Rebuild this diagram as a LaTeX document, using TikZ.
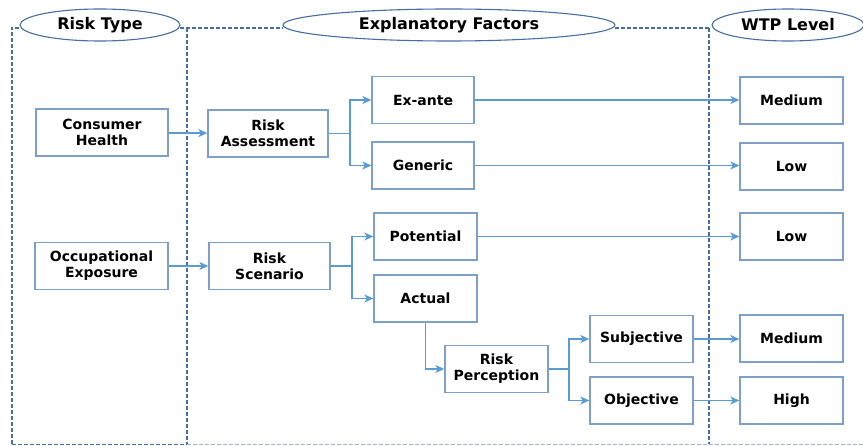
\documentclass[tikz,border=0pt]{standalone}
\usepackage{fontspec}
\setmainfont{DejaVu Sans}
\usetikzlibrary{arrows.meta,shapes.geometric}
\definecolor{boxc}{RGB}{125,160,200}
\definecolor{arrc}{RGB}{91,155,213}
\definecolor{dashc}{RGB}{70,110,160}
\definecolor{lightdash}{RGB}{160,180,205}
\begin{document}
\begin{tikzpicture}[x=1pt,y=-1pt,
  box/.style={draw=boxc,line width=1.3pt,fill=white,rectangle,align=center,
    minimum height=47pt,inner sep=2pt,font=\fontsize{14}{16}\selectfont\bfseries},
  ttl/.style={draw=dashc,line width=1.1pt,fill=white,ellipse,minimum height=32pt,
    inner sep=0pt,font=\fontsize{16}{18}\selectfont\bfseries},
  arr/.style={draw=arrc,line width=1.8pt,-{Stealth[length=9pt,width=8pt,inset=2.5pt]}},
  ln/.style={draw=arrc,line width=1.8pt},
  dsh/.style={draw=dashc,line width=1.5pt,dash pattern=on 4pt off 2pt}]
\useasboundingbox (0,0) rectangle (863,446);
% dashed frames
\draw[dsh] (12,444.5) -- (12,28) -- (20,28);
\draw[dsh] (180,28) -- (283,28);
\draw[dsh] (615,28) -- (709,28);
\draw[dsh] (187,28) -- (187,444.5);
\draw[dsh] (709,28) -- (709,444.5);
\draw[dsh] (12,444.5) -- (187,444.5);
\draw[draw=lightdash,line width=1.3pt,dash pattern=on 4pt off 2pt] (187,444.5) -- (863,444.5);
% titles
\node[ttl,minimum width=160pt] (t1) at (100,25) {Risk Type};
\node[ttl,minimum width=332pt] (t2) at (449,25) {Explanatory Factors};
\node[ttl,minimum width=152pt] (t3) at (788,25) {WTP Level};
% boxes
\node[box,minimum width=132pt] (ch) at (102,132.5) {Consumer\\Health};
\node[box,minimum width=133pt] (oe) at (101.5,266) {Occupational\\Exposure};
\node[box,minimum width=120pt] (ra) at (268,133.5) {Risk\\Assessment};
\node[box,minimum width=121pt] (rs) at (269.5,266) {Risk\\Scenario};
\node[box,minimum width=102pt] (ea) at (423,100) {Ex-ante};
\node[box,minimum width=102pt] (ge) at (423,165.5) {Generic};
\node[box,minimum width=103pt] (po) at (425.5,236.5) {Potential};
\node[box,minimum width=103pt] (ac) at (425.5,298.5) {Actual};
\node[box,minimum width=103pt] (rp) at (496.5,369) {Risk\\Perception};
\node[box,minimum width=103pt] (su) at (641.5,339) {Subjective};
\node[box,minimum width=103pt] (ob) at (641.5,400.5) {Objective};
\node[box,minimum width=103pt] (w1) at (791.5,100.5) {Medium};
\node[box,minimum width=103pt] (w2) at (791.5,166.5) {Low};
\node[box,minimum width=103pt] (w3) at (791.5,236.5) {Low};
\node[box,minimum width=103pt] (w4) at (791.5,338.5) {Medium};
\node[box,minimum width=103pt] (w5) at (791.5,400.5) {High};
% branch points
\coordinate (b1) at (350,133.5);
\coordinate (b2) at (352,266);
\coordinate (b3) at (569,369);
% connectors
\draw[arr] (ch) -- (ra);
\draw[arr] (oe) -- (rs);
\draw[ln] (ra.east) -- (b1);
\draw[arr] (b1) |- (ea.west);
\draw[arr] (b1) |- (ge.west);
\draw[ln] (rs.east) -- (b2);
\draw[arr] (b2) |- (po.west);
\draw[arr] (b2) |- (ac.west);
\draw[arr] (ac.south) |- (rp.west);
\draw[ln] (rp.east) -- (b3);
\draw[arr] (b3) |- (su.west);
\draw[arr] (b3) |- (ob.west);
\draw[arr] (ea.east) -- (ea.east -| w1.west);
\draw[arr] (ge.east) -- (ge.east -| w2.west);
\draw[arr] (po.east) -- (po.east -| w3.west);
\draw[arr] (su.east) -- (su.east -| w4.west);
\draw[arr] (ob.east) -- (ob.east -| w5.west);
\end{tikzpicture}
\end{document}
